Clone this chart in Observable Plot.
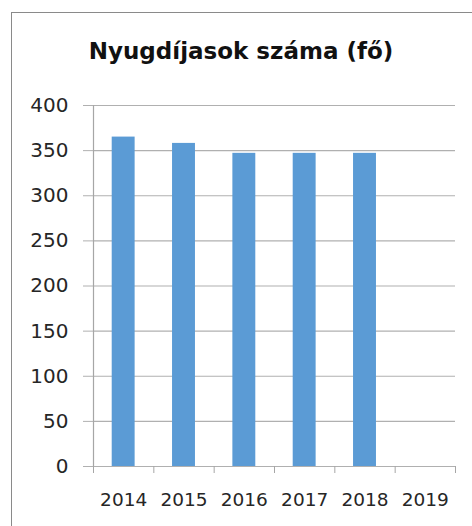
<!DOCTYPE html>
<html>
<head>
<meta charset="utf-8">
<script src="https://cdn.jsdelivr.net/npm/d3@7"></script>
<script src="https://cdn.jsdelivr.net/npm/@observablehq/plot@0.6"></script>
<style>
  html, body { margin: 0; padding: 0; background: #fff; }
  #wrap { position: relative; width: 472px; height: 526px; overflow: hidden; }
  #border { position: absolute; left: 11px; top: 12px; width: 480px; height: 540px;
            border-left: 1.5px solid #8a8a8a; border-top: 1.5px solid #8a8a8a; }
  #title { position: absolute; left: 1px; top: 38px; width: 480px; text-align: center;
           font-family: "DejaVu Sans", sans-serif; font-weight: bold;
           font-size: 23px; color: #111; white-space: nowrap; }
  #chart { position: absolute; left: 0; top: 0; }
</style>
</head>
<body>
<div id="wrap">
  <div id="border"></div>
  <div id="title">Nyugdíjasok száma (fő)</div>
  <div id="chart"></div>
</div>
<script>
const years = [2014, 2015, 2016, 2017, 2018, 2019];
const values = [365, 358, 347, 347, 347, null];
const yTicks = [0, 50, 100, 150, 200, 250, 300, 350, 400];
const barColor = "#5b9bd5";

const data = years.map((year, i) => ({year, value: values[i]})).filter(d => d.value != null);
const boundaries = [years[0] - 0.5, ...years.map(y => y + 0.5)];

const chart = Plot.plot({
  width: 472,
  height: 526,
  marginLeft: 93,
  marginRight: 17,
  marginTop: 105,
  marginBottom: 60,
  style: {fontFamily: "DejaVu Sans, sans-serif", fontSize: "18.5px", color: "#262626", background: "transparent"},
  x: {type: "linear", domain: [boundaries[0], boundaries[boundaries.length - 1]]},
  y: {domain: [0, 400]},
  marks: [
    Plot.ruleY(yTicks, {stroke: "#b0b0b0", strokeWidth: 1.2}),
    Plot.rectY(data, {x1: d => d.year - 0.19, x2: d => d.year + 0.19, y1: 0, y2: "value", fill: barColor}),
    Plot.ruleX([boundaries[0]], {stroke: "#a6a6a6", strokeWidth: 1.2}),
    Plot.axisY({ticks: yTicks, tickSize: 10, tickPadding: 15, stroke: "#b0b0b0", strokeOpacity: 1, fill: "#262626", label: null, fontSize: 20}),
    Plot.axisX({ticks: boundaries, tickSize: 7, tickFormat: () => "", stroke: "#a6a6a6", strokeOpacity: 1, label: null}),
    Plot.axisX({ticks: years, tickSize: 0, tickPadding: 26, tickFormat: d => String(d), fill: "#262626", label: null, fontSize: 18.5})
  ]
});
document.getElementById("chart").appendChild(chart);
</script>
</body>
</html>
